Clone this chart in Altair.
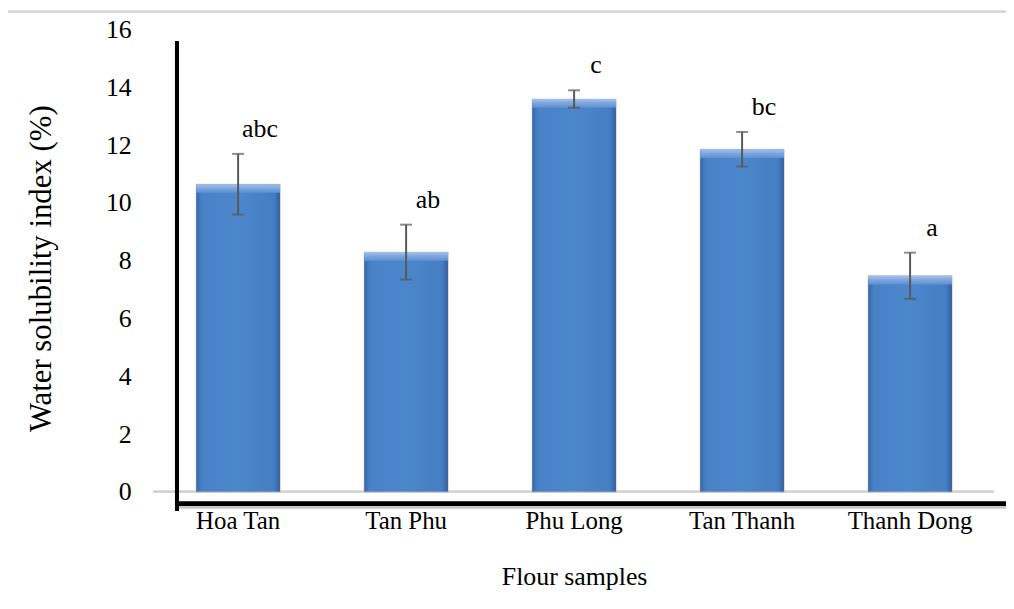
import altair as alt
import pandas as pd

samples = ["Hoa Tan", "Tan Phu", "Phu Long", "Tan Thanh", "Thanh Dong"]
wsi = [10.65, 8.3, 13.6, 11.86, 7.48]
sd = [1.05, 0.95, 0.3, 0.6, 0.8]
letters = ["abc", "ab", "c", "bc", "a"]

df = pd.DataFrame({"sample": samples, "wsi": wsi, "sd": sd, "letter": letters})

FONT = "Liberation Serif"
W, H = 845, 465

base = alt.Chart(df).transform_calculate(
    lo="datum.wsi - datum.sd",
    hi="datum.wsi + datum.sd",
    bevel="datum.wsi - 0.3",
)

xenc = alt.X(
    "sample:N",
    sort=None,
    scale=alt.Scale(paddingInner=0.5, paddingOuter=0.25),
    axis=alt.Axis(
        title="Flour samples",
        labelAngle=0,
        labelFont=FONT,
        labelFontSize=25,
        labelColor="black",
        labelPadding=17,
        domain=False,
        ticks=False,
        titleFont=FONT,
        titleFontSize=26,
        titleFontWeight="normal",
        titleColor="black",
        titleY=85,
        titleBaseline="middle",
    ),
)
yscale = alt.Scale(domain=[0, 16], nice=False)
yenc = alt.Y(
    "wsi:Q",
    scale=yscale,
    axis=alt.Axis(
        title="Water solubility index (%)",
        values=list(range(0, 17, 2)),
        grid=False,
        domain=False,
        ticks=False,
        labelFont=FONT,
        labelFontSize=26,
        labelColor="black",
        labelPadding=23,
        titleFont=FONT,
        titleFontSize=31,
        titleFontWeight="normal",
        titleColor="black",
        titleX=-113,
        titleY=240,
        titleAngle=-90,
        titleAlign="center",
        titleBaseline="middle",
    ),
)

border = alt.Chart(df).mark_rect(
    fill=None, stroke="#D9D9D9", strokeWidth=2, clip=False
).encode(x=alt.value(-148), x2=alt.value(W + 60), y=alt.value(-18), y2=alt.value(H + 140))

zero_line = alt.Chart(df).mark_rule(color="#D4D4D4", strokeWidth=2.5).encode(
    y=alt.datum(0, scale=yscale), x=alt.value(-1), x2=alt.value(W)
)

bars = base.mark_bar(
    fill=alt.Gradient(
        gradient="linear",
        x1=0, x2=1, y1=0, y2=0,
        stops=[
            alt.GradientStop(color="#3566A8", offset=0),
            alt.GradientStop(color="#4A82C8", offset=0.07),
            alt.GradientStop(color="#4C86CB", offset=0.5),
            alt.GradientStop(color="#467EC3", offset=0.93),
            alt.GradientStop(color="#2F5B98", offset=1),
        ],
    ),
    stroke="#9A9A9A",
    strokeOpacity=0.35,
    strokeWidth=1,
).encode(x=xenc, y=yenc)

bevel = base.mark_bar(
    fill=alt.Gradient(
        gradient="linear",
        x1=0, x2=0, y1=0, y2=1,
        stops=[
            alt.GradientStop(color="#A4C2EA", offset=0),
            alt.GradientStop(color="#7CA5DD", offset=0.5),
            alt.GradientStop(color="#5E90D2", offset=1),
        ],
    ),
).encode(x=alt.X("sample:N", sort=None), y=alt.Y("wsi:Q", scale=yscale), y2="bevel:Q")

err = base.mark_rule(color="#595959", strokeWidth=2).encode(
    x=alt.X("sample:N", sort=None), y=alt.Y("lo:Q", scale=yscale), y2="hi:Q"
)
cap_hi = base.mark_tick(color="#595959", thickness=2, size=12, orient="horizontal").encode(
    x=alt.X("sample:N", sort=None), y=alt.Y("hi:Q", scale=yscale)
)
cap_lo = base.mark_tick(color="#595959", thickness=2, size=12, orient="horizontal").encode(
    x=alt.X("sample:N", sort=None), y=alt.Y("lo:Q", scale=yscale)
)

labels = base.mark_text(
    font=FONT, fontSize=26, color="black", dx=22, dy=-25, baseline="middle", align="center"
).encode(x=alt.X("sample:N", sort=None), y=alt.Y("hi:Q", scale=yscale), text="letter:N")

vline = alt.Chart(df).mark_rule(color="black", strokeWidth=4).encode(
    x=alt.value(23), y=alt.value(12), y2=alt.value(484)
)
hline_shadow = alt.Chart(df).mark_rule(color="#C8C8C8", strokeWidth=3).encode(
    x=alt.value(23), x2=alt.value(W + 30), y=alt.value(480)
)
hline = alt.Chart(df).mark_rule(color="black", strokeWidth=4).encode(
    x=alt.value(21), x2=alt.value(W + 30), y=alt.value(477)
)

chart = (
    alt.layer(border, zero_line, bars, bevel, err, cap_hi, cap_lo, labels, hline_shadow, vline, hline)
    .properties(
        width=W,
        height=H,
        autosize=alt.AutoSizeParams(type="none"),
        padding={"left": 147, "top": 20, "right": 12, "bottom": 108},
        background="white",
    )
    .configure_view(stroke=None)
)

chart.save("out.html", embed_options={"renderer": "svg", "actions": False})
